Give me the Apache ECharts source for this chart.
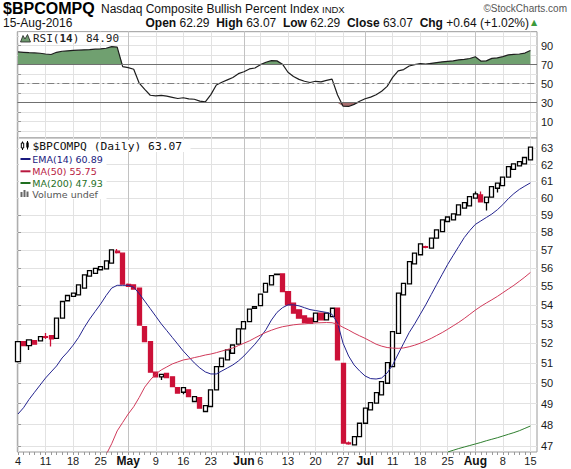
<!DOCTYPE html>
<html>
<head>
<meta charset="utf-8">
<title>$BPCOMPQ - Nasdaq Composite Bullish Percent Index</title>
<script src="https://cdn.jsdelivr.net/npm/echarts@6/dist/echarts.min.js"></script>
<style>
  html, body { margin: 0; padding: 0; background: #fff; }
  #chart { width: 571px; height: 469px; }
</style>
</head>
<body>
<div id="chart"></div>
<script>
// sessions 4-Apr-2016 .. 15-Aug-2016
const days = [
  'Apr 4','Apr 5','Apr 6','Apr 7','Apr 8','Apr 11','Apr 12','Apr 13','Apr 14','Apr 15',
  'Apr 18','Apr 19','Apr 20','Apr 21','Apr 22','Apr 25','Apr 26','Apr 27','Apr 28','Apr 29',
  'May 2','May 3','May 4','May 5','May 6','May 9','May 10','May 11','May 12','May 13',
  'May 16','May 17','May 18','May 19','May 20','May 23','May 24','May 25','May 26','May 27','May 31',
  'Jun 1','Jun 2','Jun 3','Jun 6','Jun 7','Jun 8','Jun 9','Jun 10','Jun 13','Jun 14',
  'Jun 15','Jun 16','Jun 17','Jun 20','Jun 21','Jun 22','Jun 23','Jun 24','Jun 27','Jun 28',
  'Jun 29','Jun 30','Jul 1','Jul 5','Jul 6','Jul 7','Jul 8','Jul 11','Jul 12','Jul 13',
  'Jul 14','Jul 15','Jul 18','Jul 19','Jul 20','Jul 21','Jul 22','Jul 25','Jul 26','Jul 27',
  'Jul 28','Jul 29','Aug 1','Aug 2','Aug 3','Aug 4','Aug 5','Aug 8','Aug 9','Aug 10',
  'Aug 11','Aug 12','Aug 15'
];

const opens = [
  51.07,52.08,51.88,52.13,52.12,52.34,52.39,52.25,53.30,54.22,
  54.45,54.53,54.90,55.55,55.70,55.90,55.95,56.26,56.93,56.82,
  55.10,55.07,54.90,52.86,52.08,50.54,50.31,50.48,50.31,49.78,
  49.55,49.67,49.10,49.29,48.62,48.86,49.67,50.82,51.15,51.49,51.95,
  52.74,53.12,53.82,53.96,54.68,55.07,55.63,55.67,54.71,54.09,
  53.74,53.42,53.30,53.12,53.56,53.21,53.38,53.82,50.98,47.14,
  47.05,47.43,48.06,48.70,49.02,49.42,49.99,50.82,52.51,54.53,
  55.13,56.22,56.73,57.18,57.10,57.67,58.04,58.62,58.71,59.00,
  59.39,59.53,59.98,60.17,59.72,60.04,60.57,60.73,61.23,61.71,
  61.92,62.04,62.29
];
const closes = [
  52.08,51.88,52.17,51.95,52.34,52.30,52.22,53.30,54.18,54.50,
  54.63,55.07,55.62,55.85,55.98,56.07,56.39,57.00,56.85,55.11,
  55.00,54.85,52.94,52.08,50.54,50.31,50.43,50.27,49.83,49.51,
  49.78,49.34,49.34,48.78,48.90,49.67,50.82,51.24,51.66,51.91,52.74,
  53.12,53.77,53.91,54.57,55.16,55.58,55.66,54.71,54.00,53.56,
  53.30,53.06,53.03,53.56,53.21,53.56,53.82,51.15,47.13,47.10,
  47.43,48.06,48.78,49.05,49.53,50.07,51.02,52.60,54.63,55.16,
  56.35,56.82,57.34,57.14,57.67,58.14,58.71,58.88,59.06,59.58,
  59.72,60.07,60.23,59.77,60.04,60.67,60.87,61.23,61.87,62.04,
  62.18,62.43,63.07
];
const lows = [
  51.07,51.85,51.66,51.95,52.12,52.22,51.83,52.25,53.30,54.22,
  54.45,54.53,54.90,55.55,55.70,55.90,55.95,56.26,56.80,55.11,
  55.00,54.85,52.94,52.08,50.54,50.31,50.15,50.27,49.83,49.51,
  49.45,49.34,49.10,48.78,48.62,48.86,49.67,50.82,51.15,51.49,51.95,
  52.74,53.12,53.82,53.96,54.68,55.07,55.60,54.71,54.00,53.56,
  53.30,53.06,53.03,53.12,53.21,53.21,53.38,51.15,47.13,47.06,
  47.05,47.43,48.06,48.70,49.02,49.42,49.99,50.82,52.51,54.53,
  55.13,56.22,56.73,57.10,57.10,57.67,58.04,58.62,58.71,59.00,
  59.39,59.53,59.98,59.77,59.25,60.04,60.31,60.73,61.23,61.71,
  61.92,62.04,62.29
];
const highs = [
  52.08,52.10,52.17,52.13,52.34,52.53,52.39,53.30,54.18,54.50,
  54.63,55.07,55.62,55.85,55.98,56.07,56.39,57.00,57.05,56.82,
  55.15,55.07,54.90,52.86,52.08,50.54,50.43,50.48,50.31,49.78,
  49.78,49.67,49.34,49.29,48.90,49.67,50.82,51.24,51.66,51.91,52.74,
  53.12,53.77,53.91,54.57,55.16,55.58,55.70,55.67,54.71,54.09,
  53.74,53.42,53.30,53.56,53.56,53.56,53.82,53.82,50.98,47.20,
  47.43,48.06,48.78,49.05,49.53,50.07,51.02,52.60,54.63,55.16,
  56.35,56.82,57.34,57.24,57.67,58.14,58.71,58.88,59.06,59.58,
  59.72,60.07,60.37,60.37,60.04,60.67,60.87,61.23,61.87,62.04,
  62.18,62.43,63.07
];

const ema14 = [
  48.50,48.80,49.20,49.55,49.90,50.25,50.55,50.85,51.25,51.55,
  51.90,52.30,52.80,53.25,53.65,54.05,54.50,54.90,55.05,55.05,
  55.05,54.95,54.60,54.20,53.80,53.40,53.00,52.65,52.30,51.95,
  51.60,51.30,51.00,50.75,50.55,50.45,50.45,50.60,50.75,50.90,51.10,
  51.35,51.65,51.95,52.30,52.70,53.20,53.60,53.85,54.00,54.00,
  53.95,53.85,53.75,53.70,53.65,53.60,53.50,53.05,52.00,51.35,
  50.90,50.60,50.35,50.22,50.20,50.25,50.50,50.90,51.45,52.00,
  52.55,53.00,53.50,54.00,54.55,55.10,55.65,56.20,56.70,57.20,
  57.70,58.10,58.45,58.65,58.85,59.05,59.30,59.60,59.95,60.25,
  60.50,60.70,60.89
];
const ma50Start = 16;
const ma50 = [
  46.60,47.10,47.70,48.10,48.50,48.85,49.30,49.80,50.15,50.45,
  50.65,50.80,50.95,51.05,51.15,51.20,51.27,51.33,51.40,51.45,
  51.52,51.60,51.68,51.76,51.88,52.00,52.12,52.27,52.42,52.56,
  52.67,52.77,52.85,52.90,52.95,52.98,53.00,53.03,53.05,53.06,
  53.07,53.06,52.98,52.82,52.68,52.52,52.38,52.25,52.10,51.95,
  51.85,51.78,51.75,51.74,51.76,51.82,51.90,52.00,52.12,52.25,
  52.40,52.55,52.72,52.90,53.08,53.28,53.50,53.72,53.92,54.10,
  54.27,54.45,54.65,54.85,55.05,55.27,55.50,55.75
];
const ma200Start = 78;
const ma200 = [
  46.72,46.80,46.88,46.95,47.02,47.09,47.16,47.24,47.31,47.38,
  47.46,47.54,47.62,47.71,47.82,47.93
];
const rsi14 = [
  83.4,83.0,82.6,82.4,82.0,81.2,80.7,83.0,84.1,84.6,
  85.0,85.3,85.6,85.9,86.3,86.7,87.3,89.0,88.4,68.0,
  66.8,65.2,50.5,44.0,37.8,37.2,37.6,36.8,35.6,34.4,
  35.2,34.0,33.6,31.6,30.8,38.5,48.6,51.5,54.0,56.5,60.5,
  62.5,65.5,66.5,70.0,72.5,74.2,74.0,70.5,62.0,57.6,
  54.5,52.5,51.2,52.5,51.8,53.4,54.8,38.0,26.2,26.0,
  28.2,31.5,34.1,35.8,38.3,42.0,47.2,56.6,63.4,64.8,
  68.6,70.0,71.2,70.6,71.4,72.2,73.0,73.5,74.0,75.0,
  75.6,76.5,78.3,73.8,74.0,76.6,77.2,78.4,80.3,80.8,
  81.2,82.2,84.9
];
const rsiHigh = 70, rsiLow = 30;

const tickDays = ['Apr 4','Apr 11','Apr 18','Apr 25','May 2','May 9','May 16','May 23','Jun 1','Jun 6',
  'Jun 13','Jun 20','Jun 27','Jul 1','Jul 11','Jul 18','Jul 25','Aug 1','Aug 8','Aug 15'];
const tickLabels = ['4','11','18','25','May','9','16','23','Jun','6',
  '13','20','27','Jul','11','18','25','Aug','8','15'];
const monthDays = ['May 2','Jun 1','Jul 1','Aug 1'];
const priceTicks = [47,48,49,50,51,52,53,54,55,56,57,58,59,60,61,62,63];
const rsiGrid = [0,10,20,30,40,50,60,70,80,90,100];
const rsiLabels = [10,30,50,70,90];

const dayIdx = days.map((d, i) => i);
const tickIdx = tickDays.map(d => days.indexOf(d));
const monthIdx = monthDays.map(d => days.indexOf(d));
const last = days.length - 1;

const candles = days.map((d, i) => [i, opens[i], closes[i], lows[i], highs[i]]);
const pts = (arr, start) => arr.map((v, k) => [start + k, v]);
const rsiPts = pts(rsi14, 0);
// overbought / oversold shading: clamp the RSI at the band edge and fill back to it
const obPts = rsi14.map((v, i) => [i, Math.max(v, rsiHigh)]);
const osPts = rsi14.map((v, i) => [i, Math.min(v, rsiLow)]);

const X_MIN = -0.13, X_MAX = 94.2;
const RED = '#cc1138';
const LABEL_FONT = { color: '#1a1a1a', fontSize: 11, fontFamily: 'Liberation Sans' };
const GRID_LINE = { color: '#e2e2e2', width: 1 };
const MONTH_LINE = { color: '#c2c2c2', width: 1 };

function xAxisBase(grid) {
  return {
    type: 'value', gridIndex: grid, min: X_MIN, max: X_MAX,
    axisLine: { show: false }, axisLabel: { show: false },
    axisTick: { show: false }, splitLine: { show: false }
  };
}
function shade(data, origin, color) {
  return { type: 'line', xAxisIndex: 0, yAxisIndex: 0, data: data, symbol: 'none',
    silent: true, lineStyle: { width: 0, opacity: 0 },
    areaStyle: { origin: origin, color: color, opacity: 1 } };
}

const chart = echarts.init(document.getElementById('chart'), null, { renderer: 'svg' });

function txt(x, y, text, font, fill, extra) {
  return {
    type: 'text', x: x, y: y, z: 100, silent: true,
    style: Object.assign({ text: text, font: font, fill: fill, verticalAlign: 'middle' }, extra || {})
  };
}
function legendLine(y, color) {
  return { type: 'line', z: 101, silent: true,
    shape: { x1: 20.5, y1: y, x2: 30.5, y2: y }, style: { stroke: color, lineWidth: 2 } };
}

const option = {
  animation: false,
  backgroundColor: '#fff',
  grid: [
    { left: 17.3, right: 34, top: 31.7, height: 106.3, show: true, borderColor: '#9a9a9a', borderWidth: 1, backgroundColor: '#fff' },
    { left: 17.3, right: 34, top: 138, bottom: 17, show: true, borderColor: '#9a9a9a', borderWidth: 1, backgroundColor: '#fff' }
  ],
  xAxis: [
    Object.assign(xAxisBase(0), { axisTick: { show: false, customValues: tickIdx }, splitLine: { show: true, lineStyle: GRID_LINE } }),
    Object.assign(xAxisBase(0), { axisTick: { show: false, customValues: monthIdx }, splitLine: { show: true, lineStyle: MONTH_LINE } }),
    Object.assign(xAxisBase(1), {
      position: 'bottom',
      axisTick: { show: false, customValues: tickIdx },
      splitLine: { show: true, lineStyle: GRID_LINE },
      axisLabel: Object.assign({
        show: true, margin: 3, customValues: tickIdx,
        formatter: function (v) {
          const k = tickIdx.indexOf(Math.round(v));
          if (k < 0) return '';
          return monthIdx.indexOf(tickIdx[k]) >= 0 ? '{m|' + tickLabels[k] + '}' : tickLabels[k];
        },
        rich: { m: { fontWeight: 'bold', fontSize: 12, fontFamily: 'Liberation Sans', color: '#111' } }
      }, LABEL_FONT)
    }),
    Object.assign(xAxisBase(1), { position: 'top', axisTick: { show: false, customValues: monthIdx }, splitLine: { show: true, lineStyle: MONTH_LINE } }),
    Object.assign(xAxisBase(1), { position: 'bottom', axisTick: { show: true, customValues: dayIdx, length: 3, lineStyle: { color: '#999' } } })
  ],
  yAxis: [
    {
      type: 'value', gridIndex: 0, position: 'right', min: -7.2, max: 104.7,
      axisLine: { show: false },
      axisTick: { show: true, customValues: rsiGrid, length: 3, lineStyle: { color: '#999' } },
      axisLabel: Object.assign({ customValues: rsiLabels, margin: 4 }, LABEL_FONT),
      splitLine: { show: true, lineStyle: GRID_LINE }
    },
    {
      type: 'log', gridIndex: 1, position: 'right', min: 46.72, max: 63.64,
      axisLine: { show: false },
      axisTick: { show: true, customValues: priceTicks, length: 3, lineStyle: { color: '#999' } },
      axisLabel: Object.assign({ customValues: priceTicks, margin: 4, formatter: v => String(Math.round(v)) }, LABEL_FONT),
      splitLine: { show: true, lineStyle: GRID_LINE }
    }
  ],
  series: [
    shade(obPts, rsiHigh, '#70a070'),
    shade(osPts, rsiLow, '#a86e6e'),
    { type: 'line', xAxisIndex: 0, yAxisIndex: 0, data: rsiPts, symbol: 'none', silent: true,
      lineStyle: { color: '#1e1e1e', width: 1.2 },
      markLine: {
        silent: true, symbol: ['none', 'none'], label: { show: false },
        data: [
          { yAxis: rsiHigh, lineStyle: { color: '#707070', width: 1, type: 'solid' } },
          { yAxis: rsiLow, lineStyle: { color: '#707070', width: 1, type: 'solid' } },
          { yAxis: 50, lineStyle: { color: '#808080', width: 1, type: [7, 3, 2, 3] } }
        ]
      } },
    { type: 'candlestick', xAxisIndex: 2, yAxisIndex: 1, data: candles, barWidth: 4.6, silent: true,
      itemStyle: { color: '#ffffff', color0: RED, borderColor: '#000', borderColor0: RED, borderWidth: 1.3 } },
    { type: 'line', xAxisIndex: 2, yAxisIndex: 1, data: pts(ema14, 0), symbol: 'none', silent: true,
      lineStyle: { color: '#23238e', width: 1 } },
    { type: 'line', xAxisIndex: 2, yAxisIndex: 1, data: pts(ma50, ma50Start), symbol: 'none', silent: true,
      lineStyle: { color: '#d03a5a', width: 1 } },
    { type: 'line', xAxisIndex: 2, yAxisIndex: 1, data: pts(ma200, ma200Start), symbol: 'none', silent: true,
      lineStyle: { color: '#2f7f2f', width: 1 } }
  ],
  graphic: [
    txt(3, 8.5, '$BPCOMPQ', 'bold 16px "Liberation Sans"', '#000'),
    txt(101, 9, 'Nasdaq Composite Bullish Percent Index', '12px "Liberation Sans"', '#111'),
    txt(322, 9.5, 'INDX', '9.5px "Liberation Sans"', '#111'),
    txt(567, 8, '\u00A9StockCharts.com', '10px "Liberation Sans"', '#555', { align: 'right' }),
    txt(3, 23, '15-Aug-2016', '12px "Liberation Sans"', '#111'),
    txt(529, 23, '{b|Open} 62.29  {b|High} 63.07  {b|Low} 62.29  {b|Close} 63.07  {b|Chg} +0.64 (+1.02%)',
      '12px "Liberation Sans"', '#111',
      { align: 'right', rich: { b: { font: 'bold 12px "Liberation Sans"', fill: '#111' } } }),
    txt(531, 22, '\u25B2', '8px "DejaVu Sans"', '#3c9a3c'),

    // RSI legend
    { type: 'rect', z: 99, silent: true, shape: { x: 18.5, y: 32.5, width: 100, height: 10.5 }, style: { fill: '#fff' } },
    { type: 'polygon', z: 101, silent: true,
      shape: { points: [[20.5, 42], [23, 35.5], [25, 39], [27.5, 34.5], [30.5, 42]] },
      style: { fill: '#6f9a6f', stroke: '#222', lineWidth: 0.8 } },
    txt(33, 38, 'RSI({b|14}) ' + rsi14[last].toFixed(2), '11px "DejaVu Sans Mono"', '#222',
      { rich: { b: { font: 'bold 11px "DejaVu Sans Mono"', fill: '#222' } } }),

    // price legend
    { type: 'rect', z: 99, silent: true, shape: { x: 18.5, y: 140, width: 172, height: 12 }, style: { fill: '#fff' } },
    { type: 'rect', z: 99, silent: true, shape: { x: 18.5, y: 152, width: 88, height: 47 }, style: { fill: '#fff' } },
    { type: 'line', z: 101, silent: true, shape: { x1: 22.5, y1: 141.5, x2: 22.5, y2: 150 }, style: { stroke: '#000', lineWidth: 1 } },
    { type: 'rect', z: 102, silent: true, shape: { x: 21.3, y: 143, width: 2.4, height: 5 }, style: { fill: '#fff', stroke: '#000', lineWidth: 1 } },
    { type: 'line', z: 101, silent: true, shape: { x1: 27.5, y1: 141, x2: 27.5, y2: 149.5 }, style: { stroke: '#000', lineWidth: 1 } },
    { type: 'rect', z: 102, silent: true, shape: { x: 26.3, y: 142.5, width: 2.4, height: 5 }, style: { fill: '#000' } },
    txt(32.5, 146.5, '$BPCOMPQ (Daily) ' + closes[last].toFixed(2), '11.3px "DejaVu Sans Mono"', '#111'),
    legendLine(159, '#1a1a80'),
    txt(32.3, 159, 'EMA(14) ' + ema14[last].toFixed(2), '9.5px "DejaVu Sans"', '#1a1a80'),
    legendLine(171.3, '#b8183f'),
    txt(32.3, 171.3, 'MA(50) ' + ma50[ma50.length - 1].toFixed(2), '9.5px "DejaVu Sans"', '#b8183f'),
    legendLine(183, '#1f6f1f'),
    txt(32.3, 183, 'MA(200) ' + ma200[ma200.length - 1].toFixed(2), '9.5px "DejaVu Sans"', '#1f6f1f'),
    { type: 'rect', z: 101, silent: true, shape: { x: 20.5, y: 192, width: 2, height: 5 }, style: { fill: '#666' } },
    { type: 'rect', z: 101, silent: true, shape: { x: 23.5, y: 190, width: 2, height: 7 }, style: { fill: '#666' } },
    { type: 'rect', z: 101, silent: true, shape: { x: 26.5, y: 191.5, width: 2, height: 5.5 }, style: { fill: '#666' } },
    txt(32.3, 194.3, 'Volume undef', '9.5px "DejaVu Sans"', '#555')
  ]
};

chart.setOption(option);
window.addEventListener('resize', () => chart.resize());
</script>
</body>
</html>
